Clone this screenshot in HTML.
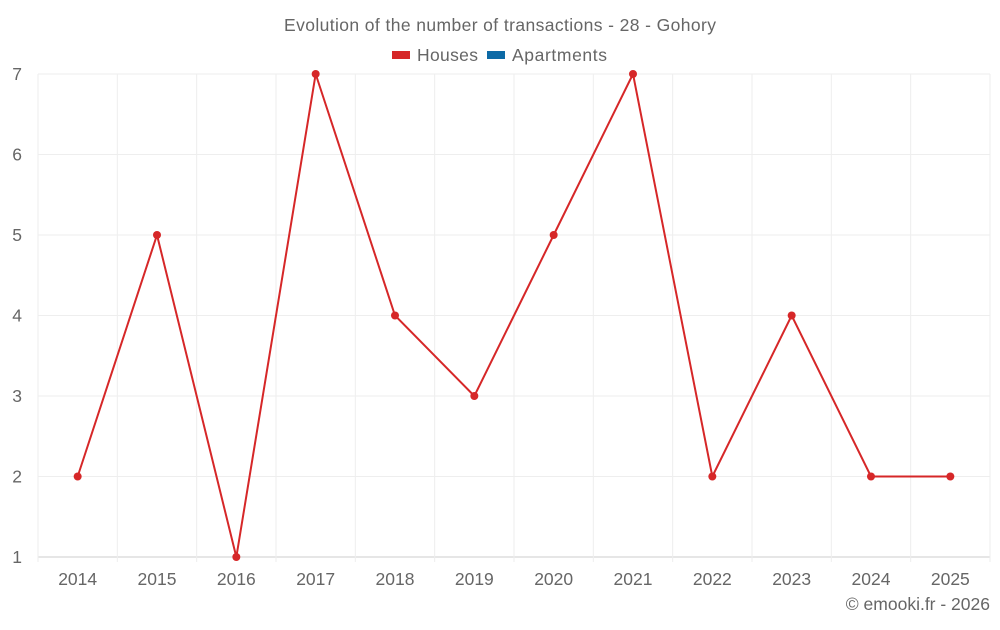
<!DOCTYPE html>
<html><head><meta charset="utf-8"><style>
body{margin:0;background:#fff;font-family:"Liberation Sans",sans-serif;}
svg text{font-family:"Liberation Sans",sans-serif;fill:#666;}
</style></head><body>
<svg id="c" width="1000" height="625">
<text x="500" y="31" text-anchor="middle" font-size="17.5" textLength="432">Evolution of the number of transactions - 28 - Gohory</text>
<g><rect x="392" y="51" width="18" height="8" fill="#d62728"/><text x="417" y="61" font-size="17.5" textLength="61">Houses</text></g>
<g><rect x="487" y="51" width="18" height="8" fill="#0d6aa6"/><text x="512" y="61" font-size="17.5" textLength="95">Apartments</text></g>
<g id="grid"></g><g id="axes"></g><g id="series"></g>
<text x="990" y="610" text-anchor="end" font-size="17.5">© emooki.fr - 2026</text>
</svg>
<script>
const categories=["2014","2015","2016","2017","2018","2019","2020","2021","2022","2023","2024","2025"];
const houses=[2,5,1,7,4,3,5,7,2,4,2,2];
const yTicks=[1,2,3,4,5,6,7];
const L=38,R=990,T=74,B=557,ymin=1,ymax=7;
const bw=(R-L)/categories.length;
const x=i=>L+bw*(i+0.5);
const y=v=>B-(v-ymin)/(ymax-ymin)*(B-T);
const NS="http://www.w3.org/2000/svg";
function mk(t,a,p){const e=document.createElementNS(NS,t);for(const k in a)e.setAttribute(k,a[k]);p.appendChild(e);return e;}
const g=document.getElementById('grid'),ax=document.getElementById('axes'),s=document.getElementById('series');
yTicks.forEach(v=>{const l=mk('line',{x1:L,x2:R,y1:y(v),y2:y(v),stroke:v===ymin?'#ccc':'#eeeeee'},g);


const t=mk('text',{x:22,y:y(v)+6,'text-anchor':'end','font-size':17.5},ax);t.textContent=v;

});
for(let i=0;i<=categories.length;i++){const l=mk('line',{x1:L+bw*i,x2:L+bw*i,y1:T,y2:B+5,stroke:'#eeeeee'},g);

}
categories.forEach((c,i)=>{const t=mk('text',{x:x(i),y:585,'text-anchor':'middle','font-size':17.5},ax);t.textContent=c;

});
const p=mk('polyline',{points:houses.map((v,i)=>x(i)+','+y(v)).join(' '),fill:'none',stroke:'#d62728','stroke-width':2},s);


houses.forEach((v,i)=>{const c=mk('circle',{cx:x(i),cy:y(v),r:4,fill:'#d62728'},s);

});
</script>
</body></html>
